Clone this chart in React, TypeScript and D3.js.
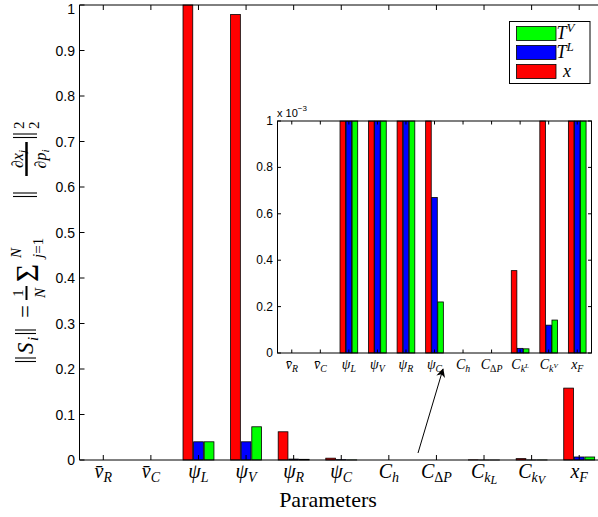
import React from "react";
import * as d3 from "d3";

// parameters on the x axis
const categories = ["vR", "vC", "psiL", "psiV", "psiR", "psiC", "Ch", "CdP", "CkL", "CkV", "xF"];
const seriesNames = ["x", "TL", "TV"];
const seriesColors = ["#ff0000", "#0000ff", "#00ff00"];

// sensitivity values
const xValues = [0, 0, 1.0, 0.979, 0.062, 0.004, 0, 0, 0.000355, 0.003, 0.158];
const tlValues = [0, 0, 0.04, 0.04, 0.002, 0.00067, 0, 0, 0.00002, 0.00012, 0.0066];
const tvValues = [0, 0, 0.04, 0.073, 0.0015, 0.00022, 0, 0, 0.000018, 0.000142, 0.0066];
const seriesValues = [xValues, tlValues, tvValues];

const mainTicks = [0, 0.1, 0.2, 0.3, 0.4, 0.5, 0.6, 0.7, 0.8, 0.9, 1];
const mainTickLabels = ["0", "0.1", "0.2", "0.3", "0.4", "0.5", "0.6", "0.7", "0.8", "0.9", "1"];
const insetTicks = [0, 0.0002, 0.0004, 0.0006, 0.0008, 0.001];
const insetTickLabels = ["0", "0.2", "0.4", "0.6", "0.8", "1"];

// tick label pieces: base symbol, subscript, second subscript part
const labelBase = ["v\u0304", "v\u0304", "ψ", "ψ", "ψ", "ψ", "C", "C", "C", "C", "x"];
const labelSub = ["R", "C", "L", "V", "R", "C", "h", "ΔP", "k", "k", "F"];
const labelSub2 = ["", "", "", "", "", "", "", "", "L", "V", ""];

const serif = "'Liberation Serif', 'DejaVu Serif', serif";
const sans = "'Liberation Sans', Arial, sans-serif";

function Bars({ xs, ys, frac }: any) {
  const gw = xs.bandwidth() * frac;
  const inner = d3.scaleBand().domain(seriesNames).range([0, gw]).paddingInner(0.08);
  const top = ys.domain()[1];
  return (
    <g>
      {categories.map((c, i) =>
        seriesNames.map((s, k) => {
          const v = seriesValues[k][i];
          if (v <= 0) return null;
          const x = xs(c) + (xs.bandwidth() - gw) / 2 + inner(s);
          const yt = ys(Math.min(v, top));
          return (
            <rect key={c + s} x={x} y={yt} width={inner.bandwidth()} height={ys(0) - yt}
              fill={seriesColors[k]} stroke="#000" strokeWidth={0.8} />
          );
        })
      )}
    </g>
  );
}

function TickLabel({ x, y, i, fs, inset }: any) {
  const sub2 = labelSub2[i];
  return (
    <text x={x} y={y} textAnchor="middle" fontFamily={serif} fontSize={fs} fontStyle="italic">
      {labelBase[i]}
      <tspan fontSize={fs * 0.7} dy={fs * 0.22} fontStyle={labelSub[i] === "ΔP" ? "normal" : "italic"}>
        {labelSub[i] === "ΔP" ? "Δ" : labelSub[i]}
      </tspan>
      {labelSub[i] === "ΔP" && <tspan fontSize={fs * 0.7}>P</tspan>}
      {sub2 && (inset ? (
        <tspan fontSize={fs * 0.5} dy={-fs * 0.28}>{sub2}</tspan>
      ) : (
        <tspan fontSize={fs * 0.6} dy={fs * 0.06}>{sub2}</tspan>
      ))}
    </text>
  );
}

// double bar ‖ drawn as two strokes (rotated frame)
function DBar({ u, v0 = -18, v1 = 3 }: any) {
  return (
    <g stroke="#000" strokeWidth={1.1}>
      <line x1={u + 1.5} x2={u + 1.5} y1={v0} y2={v1} />
      <line x1={u + 5} x2={u + 5} y1={v0} y2={v1} />
    </g>
  );
}

function YLabel() {
  const it = { fontFamily: serif, fontStyle: "italic" } as any;
  const up = { fontFamily: serif } as any;
  return (
    <g transform="translate(33,363) rotate(-90)">
      <DBar u={0} />
      <text x={9} y={0} fontSize={23} {...it}>S</text>
      <text x={22} y={5} fontSize={15} {...it}>i</text>
      <DBar u={28} />
      <text x={45} y={0} fontSize={23} {...up}>=</text>
      <text x={70} y={-10} fontSize={15} textAnchor="middle" {...up}>1</text>
      <line x1={63} x2={77} y1={-6.5} y2={-6.5} stroke="#000" strokeWidth={2} />
      <text x={70} y={12} fontSize={15} textAnchor="middle" {...it}>N</text>
      <text x={81} y={5} fontSize={31} {...up}>Σ</text>
      <text x={105} y={-12} fontSize={15} {...it}>N</text>
      <text x={105} y={10} fontSize={15} {...it}>j<tspan fontStyle="normal">=1</tspan></text>
      <DBar u={165} v0={-20} v1={4} />
      <text x={204} y={-10} fontSize={16} textAnchor="middle" {...it}>∂x<tspan fontSize={11} dy={3}>j</tspan></text>
      <line x1={187} x2={221} y1={-6.5} y2={-6.5} stroke="#000" strokeWidth={2.5} />
      <text x={204} y={13} fontSize={16} textAnchor="middle" {...it}>∂p<tspan fontSize={11} dy={3}>i</tspan></text>
      <DBar u={224} v0={-20} v1={4} />
      <text x={234} y={-9} fontSize={15} {...up}>2</text>
      <text x={234} y={6} fontSize={15} {...up}>2</text>
    </g>
  );
}

export default function App() {
  const xs = d3.scaleBand().domain(categories).range([79.5, 603]);
  const ys = d3.scaleLinear().domain([0, 1]).range([460, 5]);
  const xi = d3.scaleBand().domain(categories).range([277.5, 591.5]);
  const yi = d3.scaleLinear().domain([0, 0.001]).range([353, 121]);
  const mL = 79.5, mR = 603, mT = ys(1), mB = ys(0);
  const iL = 277.5, iR = 591.5, iT = yi(0.001), iB = yi(0);
  const legendNames = ["T", "T", "x"];
  const legendSup = ["V", "L", ""];
  const legendOrder = [2, 1, 0];

  return (
    <svg width={598} height={517} style={{ position: "absolute", left: 0, top: 0, background: "#fff" }}>
      <rect width={598} height={517} fill="#fff" />
      <defs>
        <marker id="ah" viewBox="0 0 10 10" refX={9} refY={5} markerWidth={9} markerHeight={9} orient="auto">
          <path d="M0,0 L10,5 L0,10 L3,5 z" fill="#000" />
        </marker>
      </defs>

      {/* main axes */}
      <Bars xs={xs} ys={ys} frac={0.65} />
      <path d={`M${mL},${mT}V${mB}H${mR}M${mL},${mT}H${mR}V${mB}`} fill="none" stroke="#000" strokeWidth={1} />
      {mainTicks.map((t, i) => (
        <g key={"yt" + i}>
          <line x1={mL} x2={mL + 5} y1={ys(t)} y2={ys(t)} stroke="#000" />
          <line x1={mR} x2={mR - 5} y1={ys(t)} y2={ys(t)} stroke="#000" />
          <text x={75} y={Math.max(ys(t) + 5, 13.5)} textAnchor="end" fontFamily={sans} fontSize={14}>{mainTickLabels[i]}</text>
        </g>
      ))}
      {categories.map((c, i) => {
        const cx = xs(c)! + xs.bandwidth() / 2;
        return (
          <g key={"xt" + c}>
            <line x1={cx} x2={cx} y1={mB} y2={mB - 5} stroke="#000" />
            <line x1={cx} x2={cx} y1={mT} y2={mT + 5} stroke="#000" />
            <TickLabel x={cx} y={478} i={i} fs={20} />
          </g>
        );
      })}
      <text x={328} y={507} textAnchor="middle" fontFamily={serif} fontSize={22}>Parameters</text>
      <YLabel />

      {/* arrow pointing to the inset */}
      <line x1={418} y1={453} x2={443} y2={369} stroke="#000" strokeWidth={1} markerEnd="url(#ah)" />

      {/* inset */}
      <rect x={iL} y={iT} width={iR - iL} height={iB - iT} fill="#fff" />
      <Bars xs={xi} ys={yi} frac={0.62} />
      <rect x={iL} y={iT} width={iR - iL} height={iB - iT} fill="none" stroke="#000" strokeWidth={1} />
      {insetTicks.map((t, i) => (
        <g key={"it" + i}>
          <line x1={iL} x2={iL + 3.5} y1={yi(t)} y2={yi(t)} stroke="#000" />
          <line x1={iR} x2={iR - 3.5} y1={yi(t)} y2={yi(t)} stroke="#000" />
          <text x={273} y={yi(t) + 4} textAnchor="end" fontFamily={sans} fontSize={12}>{insetTickLabels[i]}</text>
        </g>
      ))}
      {categories.map((c, i) => {
        const cx = xi(c)! + xi.bandwidth() / 2;
        return (
          <g key={"ix" + c}>
            <line x1={cx} x2={cx} y1={iB} y2={iB - 3.5} stroke="#000" />
            <line x1={cx} x2={cx} y1={iT} y2={iT + 3.5} stroke="#000" />
            <TickLabel x={cx} y={369} i={i} fs={14} inset />
          </g>
        );
      })}
      <text x={277} y={117} fontFamily={sans} fontSize={11}>x 10<tspan fontSize={8} dy={-6}>−3</tspan></text>

      {/* legend */}
      <rect x={509.5} y={21.5} width={80.5} height={62} fill="#fff" stroke="#000" strokeWidth={1} />
      {legendOrder.map((k, j) => (
        <g key={"lg" + k}>
          <rect x={516.5} y={26.5 + j * 19} width={39.5} height={14} fill={seriesColors[k]} stroke="#000" strokeWidth={0.8} />
          <text x={j === 2 ? 563 : 556.5} y={39 + j * 19} fontFamily={serif} fontStyle="italic" fontSize={18}>
            {legendNames[j]}
            {legendSup[j] && <tspan fontSize={13} dy={-7}>{legendSup[j]}</tspan>}
          </text>
        </g>
      ))}
    </svg>
  );
}
